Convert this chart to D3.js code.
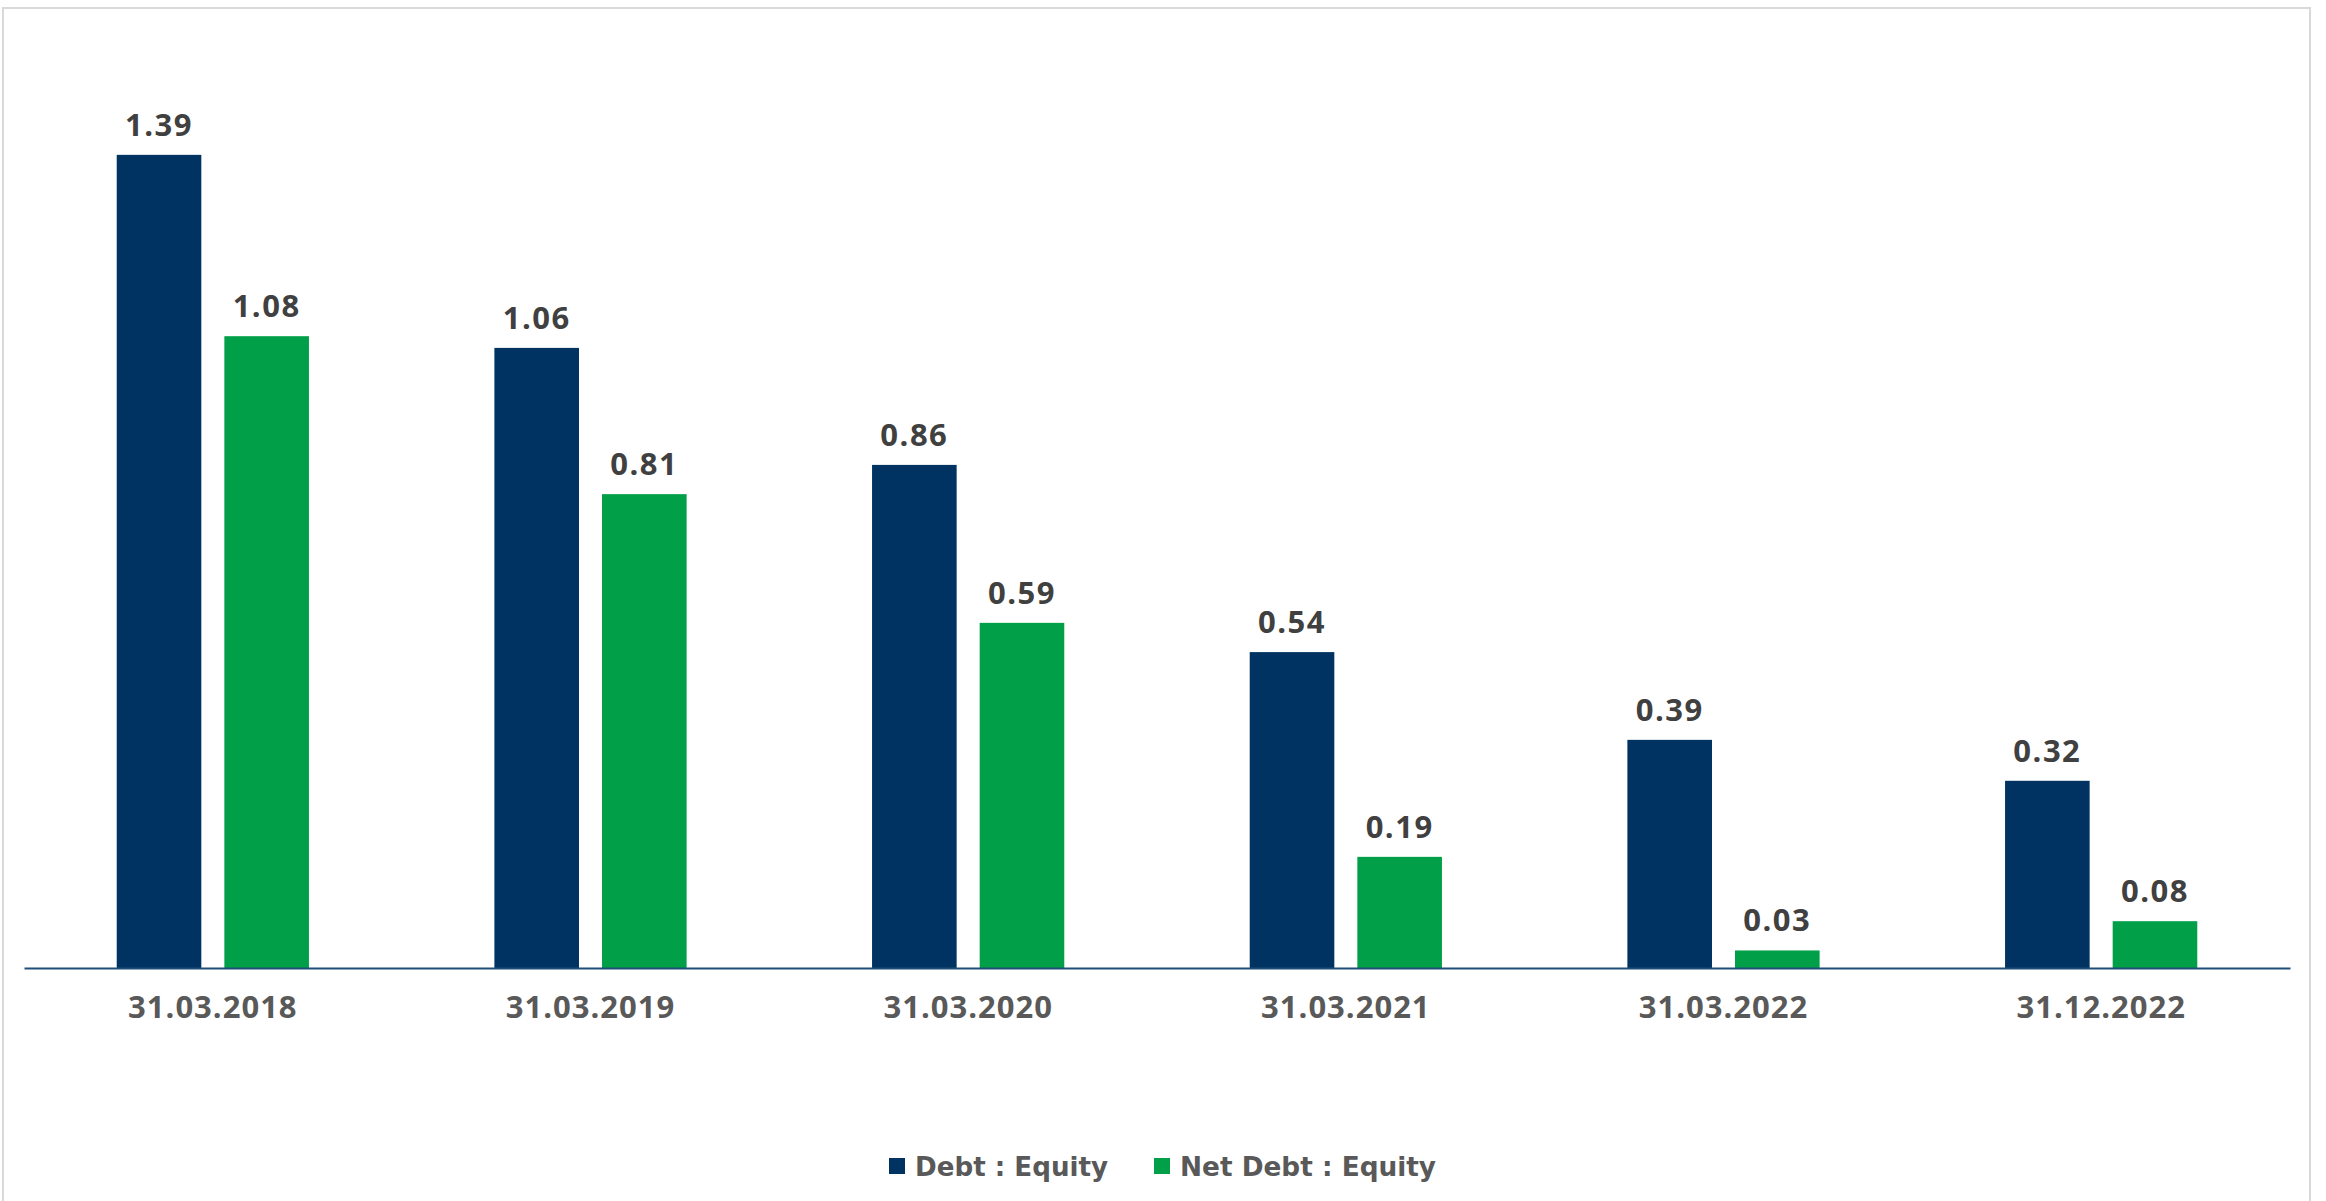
<!DOCTYPE html>
<html>
<head>
<meta charset="utf-8">
<script src="https://cdn.jsdelivr.net/npm/d3@7"></script>
<style>
  html, body { margin: 0; padding: 0; background: #fff; }
  svg { display: block; }
</style>
</head>
<body>
<svg id="chart"></svg>
<script>
// categories and the two series
const categories = ["31.03.2018", "31.03.2019", "31.03.2020", "31.03.2021", "31.03.2022", "31.12.2022"];
const debtEquity = [1.39, 1.06, 0.86, 0.54, 0.39, 0.32];
const netDebtEquity = [1.08, 0.81, 0.59, 0.19, 0.03, 0.08];
const seriesNames = ["Debt : Equity", "Net Debt : Equity"];
const seriesColors = ["#003361", "#009f48"];

const width = 2326, height = 1201;
const svg = d3.select("#chart").attr("width", width).attr("height", height);

// outer frame
svg.append("rect")
  .attr("x", 3).attr("y", 8)
  .attr("width", 2307).attr("height", 1200)
  .attr("fill", "none")
  .attr("stroke", "#d9d9d9")
  .attr("stroke-width", 2);

const rows = categories.map((c, i) => ({ cat: c, values: [debtEquity[i], netDebtEquity[i]] }));

// x: one band per date, inner band per series
const x0 = d3.scaleBand()
  .domain(categories)
  .range([24, 2290])
  .paddingInner(0.491)
  .paddingOuter(0.2455);

const x1 = d3.scaleBand()
  .domain([0, 1])
  .range([0, x0.bandwidth()])
  .paddingInner(0.214);

// y
const y = d3.scaleLinear()
  .domain([0, 1.6])
  .range([968, 32]);

const groups = svg.selectAll(".group")
  .data(rows)
  .enter()
  .append("g")
  .attr("class", "group")
  .attr("transform", d => `translate(${x0(d.cat)},0)`);

groups.selectAll("rect")
  .data(d => d.values.map((v, i) => ({ v, i })))
  .enter()
  .append("rect")
  .attr("x", d => x1(d.i))
  .attr("y", d => y(d.v))
  .attr("width", x1.bandwidth())
  .attr("height", d => y(0) - y(d.v))
  .attr("fill", d => seriesColors[d.i]);

// value labels above each bar
groups.selectAll("text")
  .data(d => d.values.map((v, i) => ({ v, i })))
  .enter()
  .append("text")
  .attr("x", d => x1(d.i) + x1.bandwidth() / 2)
  .attr("y", d => y(d.v) - 19)
  .attr("text-anchor", "middle")
  .style("font-family", "'Open Sans', sans-serif")
  .style("font-weight", "bold")
  .style("font-size", "31px")
  .style("letter-spacing", "1.5px")
  .attr("fill", "#404040")
  .text(d => d.v.toFixed(2));

// x axis
const xAxis = d3.axisBottom(x0).tickSize(0).tickPadding(28);
const gx = svg.append("g")
  .attr("transform", `translate(0,${y(0)})`)
  .call(xAxis);
gx.select(".domain").attr("stroke", "#1f4e79").attr("stroke-width", 2);
gx.selectAll("text")
  .style("font-family", "'Open Sans', sans-serif")
  .style("font-weight", "bold")
  .style("font-size", "31px")
  .style("letter-spacing", "1px")
  .attr("fill", "#595959");

// legend
const legendX = [889, 1154];
const legendLen = [193, 256];
const legend = svg.selectAll(".legend")
  .data(seriesNames)
  .enter()
  .append("g")
  .attr("class", "legend")
  .attr("transform", (d, i) => `translate(${legendX[i]},1158)`);

legend.append("rect")
  .attr("width", 16).attr("height", 16)
  .attr("fill", (d, i) => seriesColors[i]);

legend.append("text")
  .attr("x", 26).attr("y", 18)
  .attr("textLength", (d, i) => legendLen[i])
  .attr("lengthAdjust", "spacingAndGlyphs")
  .style("font-family", "'DejaVu Sans', sans-serif")
  .style("font-weight", "bold")
  .style("font-size", "27px")
  .attr("fill", "#595959")
  .text(d => d);
</script>
</body>
</html>
